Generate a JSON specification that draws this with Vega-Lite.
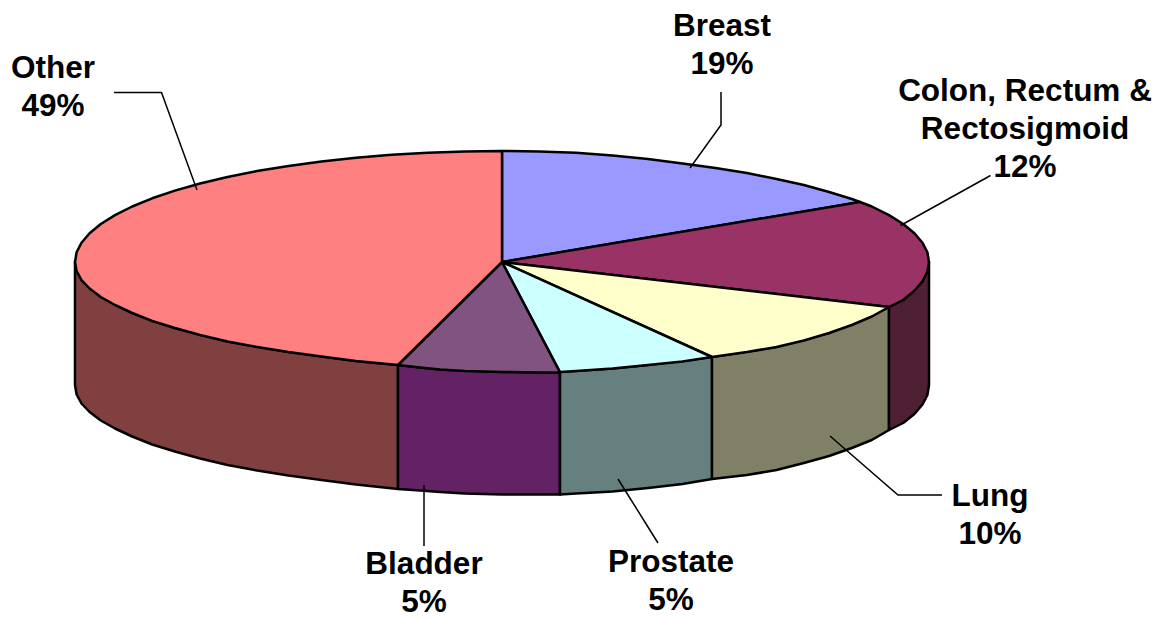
{"$schema":"https://vega.github.io/schema/vega-lite/v6.json","width":1168,"height":619,"padding":0,"autosize":{"type":"none"},"background":"white","view":{"stroke":null},
"layer":[
{"data":{"values":[
{"part":"Other side","i":1,"x":75,"y":262},{"part":"Other side","i":2,"x":81.5,"y":280},{"part":"Other side","i":3,"x":100.8,"y":297},{"part":"Other side","i":4,"x":132.2,"y":313},{"part":"Other side","i":5,"x":174.9,"y":328},{"part":"Other side","i":6,"x":227.5,"y":341.5},{"part":"Other side","i":7,"x":288.5,"y":352},{"part":"Other side","i":8,"x":356,"y":361},{"part":"Other side","i":9,"x":398,"y":365},{"part":"Other side","i":10,"x":398,"y":489},{"part":"Other side","i":11,"x":356,"y":484.5},{"part":"Other side","i":12,"x":321.5,"y":480},{"part":"Other side","i":13,"x":288.5,"y":475.5},{"part":"Other side","i":14,"x":257.1,"y":470.5},{"part":"Other side","i":15,"x":227.5,"y":465},{"part":"Other side","i":16,"x":200.1,"y":458.5},{"part":"Other side","i":17,"x":174.9,"y":451.5},{"part":"Other side","i":18,"x":152.2,"y":444.5},{"part":"Other side","i":19,"x":132.2,"y":436.5},{"part":"Other side","i":20,"x":115,"y":428.5},{"part":"Other side","i":21,"x":100.8,"y":420.5},{"part":"Other side","i":22,"x":89.6,"y":412},{"part":"Other side","i":23,"x":81.5,"y":403.5},{"part":"Other side","i":24,"x":76.6,"y":394.5},{"part":"Other side","i":25,"x":75,"y":385},
{"part":"Bladder side","i":1,"x":398,"y":365},{"part":"Bladder side","i":2,"x":440,"y":369.5},{"part":"Bladder side","i":3,"x":502,"y":372},{"part":"Bladder side","i":4,"x":560,"y":372.5},{"part":"Bladder side","i":5,"x":560,"y":494.5},{"part":"Bladder side","i":6,"x":502,"y":494.5},{"part":"Bladder side","i":7,"x":465,"y":493.5},{"part":"Bladder side","i":8,"x":440,"y":492},{"part":"Bladder side","i":9,"x":420,"y":490.5},{"part":"Bladder side","i":10,"x":398,"y":489},
{"part":"Prostate side","i":1,"x":560,"y":372},{"part":"Prostate side","i":2,"x":612.5,"y":368.5},{"part":"Prostate side","i":3,"x":648,"y":365},{"part":"Prostate side","i":4,"x":712,"y":357},{"part":"Prostate side","i":5,"x":712,"y":479},{"part":"Prostate side","i":6,"x":682.5,"y":484},{"part":"Prostate side","i":7,"x":648,"y":488},{"part":"Prostate side","i":8,"x":612.5,"y":491.5},{"part":"Prostate side","i":9,"x":576,"y":493.5},{"part":"Prostate side","i":10,"x":560,"y":494.5},
{"part":"Lung side","i":1,"x":712,"y":357},{"part":"Lung side","i":2,"x":776.5,"y":347},{"part":"Lung side","i":3,"x":829.1,"y":333},{"part":"Lung side","i":4,"x":889,"y":307},{"part":"Lung side","i":5,"x":889,"y":430},{"part":"Lung side","i":6,"x":871.8,"y":440},{"part":"Lung side","i":7,"x":851.8,"y":448},{"part":"Lung side","i":8,"x":829.1,"y":456},{"part":"Lung side","i":9,"x":803.9,"y":463},{"part":"Lung side","i":10,"x":776.5,"y":470},{"part":"Lung side","i":11,"x":746.9,"y":475},{"part":"Lung side","i":12,"x":712,"y":479},
{"part":"Colon side","i":1,"x":889,"y":307},{"part":"Colon side","i":2,"x":903.2,"y":300},{"part":"Colon side","i":3,"x":922.5,"y":281.3},{"part":"Colon side","i":4,"x":929,"y":262},{"part":"Colon side","i":5,"x":929,"y":385},{"part":"Colon side","i":6,"x":927.4,"y":395},{"part":"Colon side","i":7,"x":922.5,"y":404.5},{"part":"Colon side","i":8,"x":914.4,"y":414},{"part":"Colon side","i":9,"x":903.2,"y":423},{"part":"Colon side","i":10,"x":889,"y":430},
{"part":"Breast top","i":0,"x":502,"y":262},{"part":"Breast top","i":1,"x":502,"y":151},{"part":"Breast top","i":2,"x":539.2,"y":151.4},{"part":"Breast top","i":3,"x":576.1,"y":152.7},{"part":"Breast top","i":4,"x":612.5,"y":155.5},{"part":"Breast top","i":5,"x":648,"y":159},{"part":"Breast top","i":6,"x":682.5,"y":163.4},{"part":"Breast top","i":7,"x":715.5,"y":168},{"part":"Breast top","i":8,"x":746.9,"y":173},{"part":"Breast top","i":9,"x":776.5,"y":179},{"part":"Breast top","i":10,"x":803.9,"y":185},{"part":"Breast top","i":11,"x":829.1,"y":192},{"part":"Breast top","i":12,"x":851.8,"y":199},{"part":"Breast top","i":13,"x":860,"y":202},
{"part":"Colon top","i":0,"x":502,"y":262},{"part":"Colon top","i":1,"x":860,"y":202},{"part":"Colon top","i":2,"x":871.8,"y":206.5},{"part":"Colon top","i":3,"x":889,"y":215.1},{"part":"Colon top","i":4,"x":903.2,"y":224},{"part":"Colon top","i":5,"x":914.4,"y":233.3},{"part":"Colon top","i":6,"x":922.5,"y":242.7},{"part":"Colon top","i":7,"x":927.4,"y":252.3},{"part":"Colon top","i":8,"x":929,"y":262},{"part":"Colon top","i":9,"x":927.4,"y":271.7},{"part":"Colon top","i":10,"x":922.5,"y":281.3},{"part":"Colon top","i":11,"x":914.4,"y":290.7},{"part":"Colon top","i":12,"x":903.2,"y":300},{"part":"Colon top","i":13,"x":889,"y":307},
{"part":"Lung top","i":0,"x":502,"y":262},{"part":"Lung top","i":1,"x":889,"y":307},{"part":"Lung top","i":2,"x":871.8,"y":316.5},{"part":"Lung top","i":3,"x":851.8,"y":325},{"part":"Lung top","i":4,"x":829.1,"y":333},{"part":"Lung top","i":5,"x":803.9,"y":340.5},{"part":"Lung top","i":6,"x":776.5,"y":347},{"part":"Lung top","i":7,"x":746.9,"y":352},{"part":"Lung top","i":8,"x":712,"y":357},
{"part":"Prostate top","i":0,"x":502,"y":262},{"part":"Prostate top","i":1,"x":712,"y":357},{"part":"Prostate top","i":2,"x":682.5,"y":361.5},{"part":"Prostate top","i":3,"x":648,"y":365},{"part":"Prostate top","i":4,"x":612.5,"y":368.5},{"part":"Prostate top","i":5,"x":576,"y":371},{"part":"Prostate top","i":6,"x":560,"y":372},
{"part":"Bladder top","i":0,"x":502,"y":262},{"part":"Bladder top","i":1,"x":560,"y":372.5},{"part":"Bladder top","i":2,"x":539,"y":372.5},{"part":"Bladder top","i":3,"x":502,"y":372},{"part":"Bladder top","i":4,"x":465,"y":371},{"part":"Bladder top","i":5,"x":440,"y":369.5},{"part":"Bladder top","i":6,"x":420,"y":367.5},{"part":"Bladder top","i":7,"x":398,"y":365},
{"part":"Other top","i":0,"x":502,"y":262},{"part":"Other top","i":1,"x":398,"y":365},{"part":"Other top","i":2,"x":356,"y":361},{"part":"Other top","i":3,"x":321.5,"y":356.5},{"part":"Other top","i":4,"x":288.5,"y":352},{"part":"Other top","i":5,"x":257.1,"y":347},{"part":"Other top","i":6,"x":227.5,"y":341.5},{"part":"Other top","i":7,"x":200.1,"y":335},{"part":"Other top","i":8,"x":174.9,"y":328},{"part":"Other top","i":9,"x":152.2,"y":321},{"part":"Other top","i":10,"x":132.2,"y":313},{"part":"Other top","i":11,"x":115,"y":305},{"part":"Other top","i":12,"x":100.8,"y":297},{"part":"Other top","i":13,"x":89.6,"y":288.5},{"part":"Other top","i":14,"x":81.5,"y":280},{"part":"Other top","i":15,"x":76.6,"y":271},{"part":"Other top","i":16,"x":75,"y":262},{"part":"Other top","i":17,"x":76.6,"y":252.3},{"part":"Other top","i":18,"x":81.5,"y":242.7},{"part":"Other top","i":19,"x":89.6,"y":233.3},{"part":"Other top","i":20,"x":100.8,"y":224},{"part":"Other top","i":21,"x":115,"y":215.1},{"part":"Other top","i":22,"x":132.2,"y":206.5},{"part":"Other top","i":23,"x":152.2,"y":198.3},{"part":"Other top","i":24,"x":174.9,"y":190.6},{"part":"Other top","i":25,"x":200.1,"y":183.5},{"part":"Other top","i":26,"x":227.5,"y":177},{"part":"Other top","i":27,"x":257.1,"y":171.1},{"part":"Other top","i":28,"x":288.5,"y":165.9},{"part":"Other top","i":29,"x":321.5,"y":161.4},{"part":"Other top","i":30,"x":356,"y":157.7},{"part":"Other top","i":31,"x":391.5,"y":154.8},{"part":"Other top","i":32,"x":427.9,"y":152.7},{"part":"Other top","i":33,"x":464.8,"y":151.4},{"part":"Other top","i":34,"x":502,"y":151}
]},
"mark":{"type":"line","filled":true,"interpolate":"linear-closed","stroke":"#000000","strokeWidth":2.5,"strokeJoin":"round"},
"encoding":{
"x":{"field":"x","type":"quantitative","scale":{"domain":[0,1168],"nice":false,"zero":false},"axis":null},
"y":{"field":"y","type":"quantitative","scale":{"domain":[619,0],"nice":false,"zero":false},"axis":null},
"order":{"field":"i","type":"quantitative"},
"color":{"field":"part","type":"nominal","legend":null,"scale":{"domain":["Breast top","Colon top","Lung top","Prostate top","Bladder top","Other top","Colon side","Lung side","Prostate side","Bladder side","Other side"],"range":["#9999FF","#993366","#FFFFCC","#CCFFFF","#815380","#FF8080","#4F2034","#808066","#668080","#632263","#804040"]}}
}},
{"data":{"values":[
{"name":"Other","i":1,"x":114,"y":92.5},{"name":"Other","i":2,"x":161.5,"y":92.5},{"name":"Other","i":3,"x":197,"y":190},
{"name":"Breast","i":1,"x":721,"y":92},{"name":"Breast","i":2,"x":721,"y":125},{"name":"Breast","i":3,"x":690,"y":168},
{"name":"Colon","i":1,"x":990.5,"y":175.5},{"name":"Colon","i":2,"x":900.5,"y":225.5},
{"name":"Lung","i":1,"x":942,"y":495},{"name":"Lung","i":2,"x":898,"y":495},{"name":"Lung","i":3,"x":830,"y":436},
{"name":"Prostate","i":1,"x":658,"y":543},{"name":"Prostate","i":2,"x":618,"y":479},
{"name":"Bladder","i":1,"x":424,"y":546},{"name":"Bladder","i":2,"x":424,"y":485}
]},
"mark":{"type":"line","color":"#000000","strokeWidth":1.5},
"encoding":{
"x":{"field":"x","type":"quantitative"},"y":{"field":"y","type":"quantitative"},
"detail":{"field":"name"},"order":{"field":"i","type":"quantitative"}
}},
{"data":{"values":[
{"label":"Other\n49%","x":53,"y":78},
{"label":"Breast\n19%","x":722,"y":36},
{"label":"Colon, Rectum &\nRectosigmoid\n12%","x":1025,"y":101},
{"label":"Lung\n10%","x":990,"y":505.5},
{"label":"Prostate\n5%","x":671,"y":571.5},
{"label":"Bladder\n5%","x":424,"y":574}
]},
"mark":{"type":"text","font":"Liberation Sans","fontWeight":"bold","fontSize":31.5,"lineHeight":38,"lineBreak":"\n","align":"center","baseline":"alphabetic","color":"#000000"},
"encoding":{
"x":{"field":"x","type":"quantitative"},"y":{"field":"y","type":"quantitative"},
"text":{"field":"label","type":"nominal"}
}}
]}
